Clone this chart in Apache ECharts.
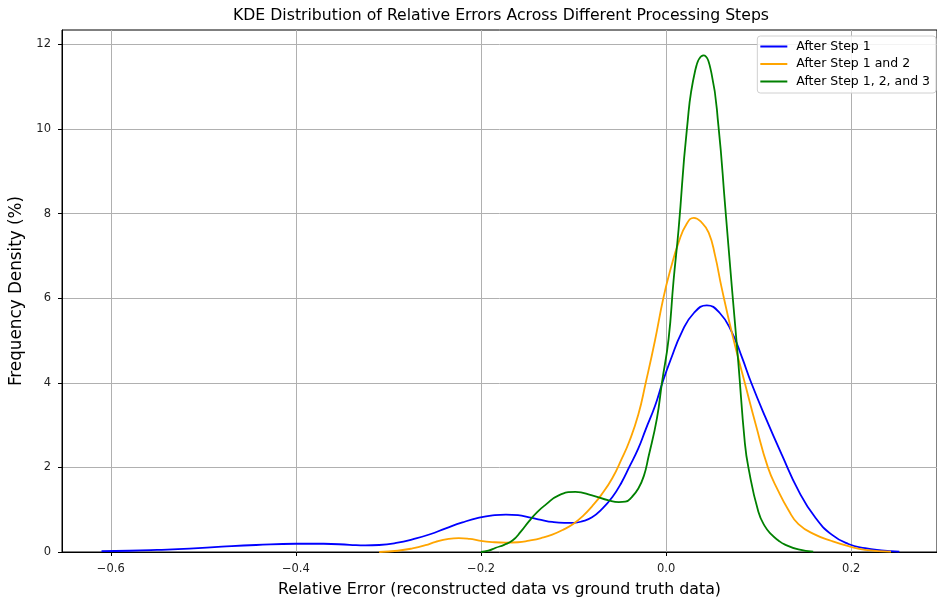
<!DOCTYPE html>
<html>
<head>
<meta charset="utf-8">
<script src="https://cdn.jsdelivr.net/npm/echarts@6/dist/echarts.min.js"></script>
<style>
html,body{margin:0;padding:0;background:#fff;}
#c{width:937px;height:603px;}
</style>
</head>
<body>
<div id="c"></div>
<script>
// ---- data ----
const seriesNames = ["After Step 1", "After Step 1 and 2", "After Step 1, 2, and 3"];

const step1X = [-0.61,-0.58,-0.55,-0.515,-0.48,-0.443,-0.40,-0.37,-0.342,-0.325,-0.31,-0.29,-0.274,-0.255,-0.238,-0.22,-0.202,-0.185,-0.173,-0.16,-0.148,-0.135,-0.123,-0.11,-0.10,-0.09,-0.08,-0.07,-0.058,-0.048,-0.040,-0.03,-0.022,-0.012,-0.004,0.005,0.017,0.03,0.044,0.058,0.071,0.082,0.092,0.107,0.125,0.143,0.161,0.179,0.197,0.215,0.2325,0.252];
const step1Y = [0.02,0.03,0.05,0.08,0.125,0.165,0.195,0.195,0.17,0.155,0.165,0.22,0.30,0.42,0.56,0.70,0.81,0.87,0.885,0.87,0.82,0.76,0.71,0.69,0.69,0.73,0.82,1.00,1.30,1.65,2.0,2.45,2.9,3.45,4.0,4.55,5.2,5.65,5.83,5.65,5.2,4.6,4.0,3.2,2.3,1.45,0.82,0.41,0.19,0.09,0.04,0.01];

const step12X = [-0.31,-0.29,-0.274,-0.26,-0.249,-0.235,-0.224,-0.212,-0.202,-0.188,-0.173,-0.16,-0.148,-0.135,-0.123,-0.11,-0.1,-0.09,-0.08,-0.07,-0.058,-0.048,-0.04,-0.03,-0.022,-0.012,-0.003,0.005,0.0135,0.022,0.030,0.038,0.046,0.053,0.060,0.072,0.085,0.097,0.110,0.121,0.132,0.143,0.161,0.179,0.197,0.215,0.243];
const step12Y = [0.0,0.03,0.085,0.16,0.24,0.31,0.33,0.31,0.27,0.235,0.22,0.23,0.27,0.33,0.41,0.54,0.67,0.85,1.08,1.35,1.75,2.2,2.6,3.25,4.0,5.0,6.0,6.7,7.32,7.75,7.9,7.8,7.55,7.0,6.25,5.1,4.0,3.0,2.0,1.45,1.0,0.66,0.41,0.26,0.14,0.05,0.01];

const step123X = [-0.20,-0.192,-0.184,-0.175,-0.166,-0.157,-0.148,-0.139,-0.130,-0.116,-0.098,-0.080,-0.062,-0.051,-0.044,-0.037,-0.030,-0.024,-0.019,-0.0099,-0.0045,0.0027,0.008,0.0135,0.0224,0.0315,0.0404,0.049,0.0566,0.0638,0.0709,0.078,0.085,0.0889,0.0997,0.107,0.114,0.121,0.128,0.143,0.159];
const step123Y = [0.0,0.03,0.1,0.17,0.27,0.48,0.73,0.95,1.12,1.34,1.42,1.34,1.22,1.18,1.19,1.3,1.5,1.8,2.25,3.16,4.0,5.04,6.4,7.63,9.98,11.39,11.74,11.32,10.06,8.18,6.3,4.49,2.6,2.0,0.95,0.6,0.41,0.28,0.18,0.06,0.01];

const xTicks = [-0.6,-0.4,-0.2,0.0,0.2];
const yTicks = [0,2,4,6,8,10,12];
const colors = ["#0000ff","#ffa500","#008000"];

// ---- build ----
const zip = (xs, ys) => xs.map((x,i)=>[x, ys[i]]);
const seriesData = [zip(step1X,step1Y), zip(step12X,step12Y), zip(step123X,step123Y)];
const fmt = v => { const s = Math.abs(v).toFixed(1); return v < 0 ? '\u2212' + s : s; };

const font = "DejaVu Sans";
const chart = echarts.init(document.getElementById('c'), null, {renderer:'canvas'});
chart.setOption({
  animation: false,
  backgroundColor: '#fff',
  title: {
    text: 'KDE Distribution of Relative Errors Across Different Processing Steps',
    left: 228, top: 3,
    textStyle: {fontFamily: font, fontSize: 15.7, fontWeight: 'normal', color: '#000'}
  },
  legend: {
    orient: 'vertical', right: 1, top: 36,
    padding: [4, 6, 5, 3], itemGap: 4.5,
    icon: 'path://M0,0h27v2h-27z M31,0h0.01v2h-0.01z', itemWidth: 31, itemHeight: 2,
    backgroundColor: 'rgba(255,255,255,0.85)',
    borderColor: '#d0d0d0', borderWidth: 1, borderRadius: 3,
    textStyle: {fontFamily: font, fontSize: 12.5, color: '#000'},
    data: seriesNames
  },
  grid: {left: 62, top: 30, width: 877, height: 524, show: true, borderColor: '#000', borderWidth: 1, containLabel: false},
  xAxis: {
    type: 'value', min: -0.6527, max: 0.2927,
    name: 'Relative Error (reconstructed data vs ground truth data)',
    nameLocation: 'middle', nameGap: 30,
    nameTextStyle: {fontFamily: font, fontSize: 15.8, color: '#000'},
    axisLine: {show: true, onZero: false, lineStyle: {color: '#000', width: 1}},
    axisTick: {show: true, length: 4, lineStyle: {color: '#000'}, customValues: xTicks},
    axisLabel: {fontFamily: font, fontSize: 11.5, color: '#222', margin: 11, customValues: xTicks, formatter: fmt},
    splitLine: {show: true, lineStyle: {color: '#b0b0b0', width: 1}}
  },
  yAxis: {
    type: 'value', min: 0, max: 12.34,
    name: 'Frequency Density (%)',
    nameLocation: 'middle', nameGap: 33,
    nameTextStyle: {fontFamily: font, fontSize: 16.8, color: '#000'},
    axisLine: {show: true, onZero: false, lineStyle: {color: '#000', width: 1}},
    axisTick: {show: true, length: 4, lineStyle: {color: '#000'}, customValues: yTicks},
    axisLabel: {fontFamily: font, fontSize: 11.5, color: '#222', margin: 11, customValues: yTicks},
    splitLine: {show: true, lineStyle: {color: '#b0b0b0', width: 1}}
  },
  series: seriesNames.map((n,i)=>({
    name: n, type: 'line', data: seriesData[i],
    symbol: 'none', smooth: 0.5,
    lineStyle: {color: colors[i], width: 1.8},
    itemStyle: {color: colors[i]},
    z: 3 + i
  }))
});
</script>
</body>
</html>
